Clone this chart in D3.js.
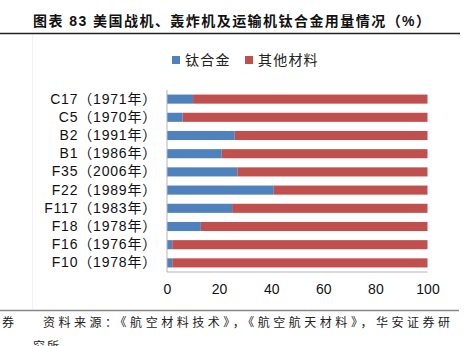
<!DOCTYPE html>
<html>
<head>
<meta charset="utf-8">
<script src="https://cdn.jsdelivr.net/npm/d3@7"></script>
<style>
  html, body { margin: 0; padding: 0; background: #fff; }
  svg { display: block; }
  text { font-family: "Liberation Sans", Arial, "Noto Sans CJK SC", sans-serif; }
</style>
</head>
<body>
<svg id="chart" width="469" height="346"></svg>
<script>
// Aircraft models (top to bottom) and titanium share of structure, %
const categories = ["C17（1971年）", "C5（1970年）", "B2（1991年）", "B1（1986年）", "F35（2006年）",
                    "F22（1989年）", "F117（1983年）", "F18（1978年）", "F16（1976年）", "F10（1978年）"];
const titanium = [10, 6, 26, 21, 27, 41, 25, 13, 2, 2];
const others = titanium.map(v => 100 - v);
const xTicks = [0, 20, 40, 60, 80, 100];
const seriesNames = ["钛合金", "其他材料"];
const colors = ["#4F81BD", "#C0504D"];

const svg = d3.select("#chart");
const cjk = '"Noto Sans CJK SC", sans-serif';

// Title and rule under it
svg.append("text")
  .attr("x", 33).attr("y", 26)
  .attr("font-family", cjk)
  .attr("font-size", 14).attr("font-weight", "bold")
  .attr("textLength", 397).attr("lengthAdjust", "spacing")
  .attr("fill", "#111")
  .text("图表 83 美国战机、轰炸机及运输机钛合金用量情况（%）");
svg.append("line")
  .attr("x1", 0).attr("x2", 460).attr("y1", 33.5).attr("y2", 33.5)
  .attr("stroke", "#222").attr("stroke-width", 1.5);

// faint frame edge on the left
svg.append("line")
  .attr("x1", 32.5).attr("x2", 32.5).attr("y1", 35).attr("y2", 309)
  .attr("stroke", "#f2f2f2").attr("stroke-width", 1);

// Legend
const legendItems = [
  { name: seriesNames[0], color: colors[0], x: 172 },
  { name: seriesNames[1], color: colors[1], x: 245 }
];
const lg = svg.append("g");
legendItems.forEach(d => {
  lg.append("rect").attr("x", d.x).attr("y", 56).attr("width", 8).attr("height", 8).attr("fill", d.color);
  lg.append("text")
    .attr("x", d.x + 13).attr("y", 65)
    .attr("font-family", cjk).attr("font-size", 14)
    .attr("letter-spacing", 1.2)
    .attr("fill", "#222")
    .text(d.name);
});

// Scales
const x = d3.scaleLinear().domain([0, 100]).range([167, 427.5]);
const y = d3.scaleBand().domain(categories).range([90, 272]).paddingInner(0.5).paddingOuter(0.25);

// Stacked bars
const rows = categories.map((c, i) => ({ cat: c, ti: titanium[i], other: others[i] }));
const stack = d3.stack().keys(["ti", "other"])(rows);
svg.append("g").selectAll("g")
  .data(stack).join("g")
  .attr("fill", (d, i) => colors[i])
  .selectAll("rect")
  .data(d => d).join("rect")
  .attr("x", d => x(d[0]))
  .attr("width", d => x(d[1]) - x(d[0]))
  .attr("y", d => y(d.data.cat))
  .attr("height", y.bandwidth());

// Axes lines
svg.append("line")
  .attr("x1", 167).attr("x2", 167).attr("y1", 90).attr("y2", 272)
  .attr("stroke", "#b5b5b5").attr("stroke-width", 1);
svg.append("line")
  .attr("x1", 167).attr("x2", 427.5).attr("y1", 272).attr("y2", 272)
  .attr("stroke", "#b5b5b5").attr("stroke-width", 1);

// Category labels
const yAxis = svg.append("g")
  .attr("transform", "translate(167,0)")
  .call(d3.axisLeft(y).tickSize(0).tickPadding(10));
yAxis.select(".domain").remove();
yAxis.selectAll("text")
  .attr("font-size", 14)
  .attr("letter-spacing", 0.8)
  .attr("font-family", '"Liberation Sans", Arial, "Noto Sans CJK SC", sans-serif')
  .attr("fill", "#111");

// Value axis labels
const xAxis = svg.append("g")
  .attr("transform", "translate(0,272)")
  .call(d3.axisBottom(x).tickValues(xTicks).tickSize(0).tickPadding(12));
xAxis.select(".domain").remove();
xAxis.selectAll("text")
  .attr("font-size", 14)
  .attr("font-family", '"Liberation Sans", Arial, sans-serif')
  .attr("fill", "#111");

// Footer rule and source note
svg.append("line")
  .attr("x1", 0).attr("x2", 459).attr("y1", 310.5).attr("y2", 310.5)
  .attr("stroke", "#888").attr("stroke-width", 1.5);
svg.append("text")
  .attr("x", 2).attr("y", 327)
  .attr("font-family", cjk).attr("font-size", 12)
  .attr("fill", "#222")
  .text("券");
svg.append("text")
  .attr("x", 43).attr("y", 327)
  .attr("font-family", cjk).attr("font-size", 12)
  .attr("textLength", 407).attr("lengthAdjust", "spacing")
  .attr("fill", "#222")
  .text("资料来源：《航空材料技术》，《航空航天材料》，华安证券研");
svg.append("text")
  .attr("x", 33).attr("y", 351)
  .attr("font-family", cjk).attr("font-size", 12)
  .attr("letter-spacing", 2)
  .attr("fill", "#222")
  .text("究所");
</script>
</body>
</html>
